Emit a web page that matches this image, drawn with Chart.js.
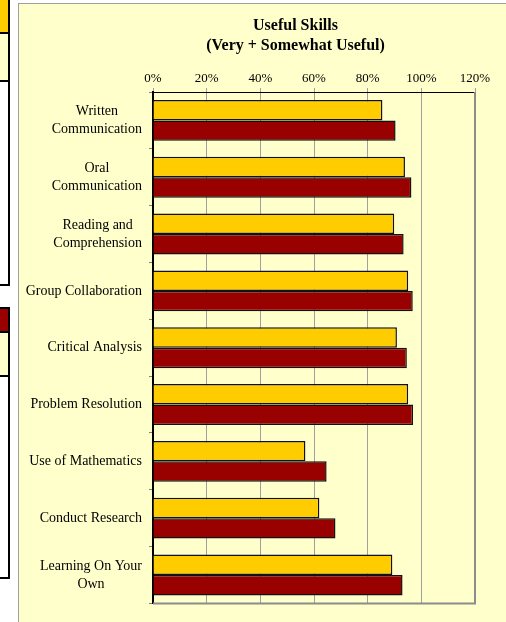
<!DOCTYPE html>
<html>
<head>
<meta charset="utf-8">
<script src="https://cdn.jsdelivr.net/npm/chart.js@4/dist/chart.umd.min.js"></script>
<style>
	html, body { margin: 0; padding: 0; background: #fff; overflow: hidden; width: 506px; height: 622px; }
	.side { position: absolute; left: -100px; width: 106px; border: 2px solid #000; background: #fff; }
	.band { border-bottom: 2px solid #000; }
	#chart-box { position: absolute; left: 18px; top: 3px; width: 553px; height: 619px; background: #ffffcc; border-left: 1px solid #a0a0a0; border-top: 1px solid #a0a0a0; }
</style>
</head>
<body>
<div class="side" style="top:-2px; height:284px;">
	<div class="band" style="height:32px; background:#ffcc00;"></div>
	<div class="band" style="height:46px; background:#ffffcc;"></div>
</div>
<div class="side" style="top:307px; height:268px;">
	<div class="band" style="height:22px; background:#990000;"></div>
	<div class="band" style="height:42px; background:#ffffcc;"></div>
</div>
<div id="chart-box"><canvas id="chart-1" width="553" height="618"></canvas></div>
<script>
const skills = [
	["Written", "Communication"],
	["Oral", "Communication"],
	["Reading and", "Comprehension"],
	["Group Collaboration"],
	["Critical Analysis"],
	["Problem Resolution"],
	["Use of Mathematics"],
	["Conduct Research"],
	["Learning On Your", "Own"]
];
const yellowValues = [85.5, 93.9, 89.9, 95.1, 90.9, 95.1, 56.8, 62.0, 89.2];
const redValues = [90.4, 96.3, 93.4, 96.8, 94.6, 96.9, 64.7, 68.0, 93.0];
const percentTicks = [0, 20, 40, 60, 80, 100, 120];
const chartTitle = ["Useful Skills", "(Very + Somewhat Useful)"];

const serif = '"Liberation Serif", "Times New Roman", serif';

// category labels: lines centred on each other, block pushed against the axis
const yLabels = {
	id: "yLabels",
	afterDraw(chart) {
		const ctx = chart.ctx;
		const y = chart.scales.y;
		ctx.save();
		ctx.font = "14px " + serif;
		ctx.fillStyle = "#000";
		ctx.textAlign = "center";
		ctx.textBaseline = "middle";
		skills.forEach((lines, i) => {
			const w = Math.max(...lines.map(l => ctx.measureText(l).width));
			const cx = y.right - 11 - w / 2;
			const cy = y.getPixelForValue(i);
			lines.forEach((l, j) => ctx.fillText(l, cx, cy + (j - (lines.length - 1) / 2) * 18));
		});
		ctx.restore();
	}
};

// grey right and bottom edge of the plot area
const plotFrame = {
	id: "plotFrame",
	afterDatasetsDraw(chart) {
		const ctx = chart.ctx;
		const a = chart.chartArea;
		ctx.save();
		ctx.strokeStyle = "#8c8c8c";
		ctx.lineWidth = 2;
		ctx.beginPath();
		ctx.moveTo(a.right, a.top);
		ctx.lineTo(a.right, a.bottom);
		ctx.lineTo(a.left, a.bottom);
		ctx.stroke();
		ctx.restore();
	}
};

new Chart("chart-1", {
	type: "bar",
	data: {
		labels: skills,
		datasets: [
			{ label: "Very useful", data: yellowValues, backgroundColor: "#ffcc00", borderColor: "#111", borderWidth: 1.5 },
			{ label: "Somewhat useful", data: redValues, backgroundColor: "#990000", borderColor: "#111", borderWidth: 1.5 }
		]
	},
	options: {
		indexAxis: "y",
		responsive: false,
		animation: false,
		layout: { padding: { left: 0, right: 0, top: 0, bottom: 16 } },
		datasets: { bar: { categoryPercentage: 0.72, barPercentage: 1 } },
		plugins: {
			legend: { display: false },
			tooltip: { enabled: false },
			title: {
				display: true,
				text: chartTitle,
				color: "#000",
				font: { family: serif, size: 16, weight: "bold", lineHeight: "20px" },
				padding: { top: 12, bottom: 0 }
			}
		},
		scales: {
			x: {
				position: "top",
				min: 0,
				max: 120,
				afterBuildTicks: scale => { scale.ticks = percentTicks.map(v => ({ value: v })); },
				afterFit: scale => { scale.height = 36; },
				ticks: {
					color: "#000",
					font: { family: serif, size: 13 },
					padding: 2,
					callback: v => v + "%"
				},
				grid: { color: "#a0a0a0", tickLength: 4 },
				border: { color: "#000", width: 1 }
			},
			y: {
				afterFit: scale => { scale.width = 134; },
				ticks: { color: "rgba(0,0,0,0)", font: { family: serif, size: 13 } },
				grid: { drawOnChartArea: false, color: "#808080", tickLength: 4, offset: true },
				border: { color: "#000", width: 2 }
			},
			// empty strip on the right, the part of the chart cut off by the crop
			yRight: {
				type: "linear",
				axis: "y",
				position: "right",
				afterFit: scale => { scale.width = 97; },
				ticks: { display: false },
				grid: { display: false },
				border: { display: false }
			}
		}
	},
	plugins: [yLabels, plotFrame]
});
</script>
</body>
</html>
